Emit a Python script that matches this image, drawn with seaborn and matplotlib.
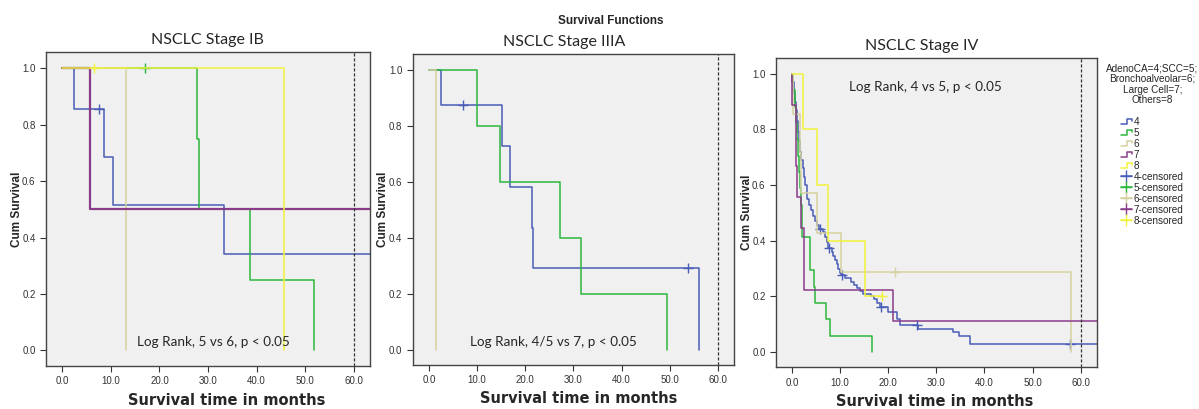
import numpy as np
import pandas as pd
import matplotlib
matplotlib.use("Agg")
import matplotlib.pyplot as plt
import seaborn as sns
from matplotlib.lines import Line2D
from matplotlib.legend_handler import HandlerLine2D

sns.set_theme(style="ticks")
plt.rcParams["font.family"] = ["Liberation Sans", "DejaVu Sans"]

# group codes: AdenoCA=4, SCC=5, Bronchoalveolar=6, Large Cell=7, Others=8
groups = [4, 5, 6, 7, 8]
group_colors = {4: "#4a5db8", 5: "#2cb63c", 6: "#d6d1a0", 7: "#8a3c8a", 8: "#f2f23a"}

# ---- Stage IB (time in months, survival after each step, censored times)
ib_t4 = [0, 2.4, 8.6, 10.5, 33.2, 66.0]
ib_s4 = [1.0, 0.857, 0.686, 0.514, 0.343, 0.343]
ib_c4 = [7.6]
ib_t5 = [0, 27.8, 28.1, 38.7, 51.9]
ib_s5 = [1.0, 0.75, 0.5, 0.25, 0.0]
ib_c5 = [17.0]
ib_t6 = [0, 13.2]
ib_s6 = [1.0, 0.0]
ib_t7 = [0, 5.7, 66.0]
ib_s7 = [1.0, 0.5, 0.5]
ib_t8 = [0, 45.6]
ib_s8 = [1.0, 0.0]
ib_c8 = [6.5]

# ---- Stage IIIA
iiia_t4 = [0, 2.56, 15.2, 16.9, 21.5, 21.7, 56.0]
iiia_s4 = [1.0, 0.875, 0.729, 0.583, 0.437, 0.292, 0.0]
iiia_c4 = [7.1, 53.7]
iiia_t5 = [0, 10.1, 14.7, 27.3, 31.6, 49.4]
iiia_s5 = [1.0, 0.8, 0.6, 0.4, 0.2, 0.0]
iiia_t6 = [0, 1.45]
iiia_s6 = [1.0, 0.0]

# ---- Stage IV
iv_t4 = [0, 0, 0.3, 0.5, 0.8, 1.0, 1.2, 1.4, 1.7, 1.9, 2.2, 2.5, 2.7, 3.0, 3.2, 3.6,
         4.0, 4.4, 4.8, 5.1, 5.5, 6.4, 6.8, 7.2, 7.5, 8.2, 8.6, 9.0, 9.3, 9.6, 10.0,
         10.2, 11.0, 12.3, 12.8, 13.4, 14.1, 14.8, 16.5, 17.0, 17.6, 18.2, 20.0, 21.9,
         22.4, 26.2, 33.5, 34.7, 37.0, 66.0]
iv_s4 = [1.0, 0.97, 0.93, 0.90, 0.87, 0.83, 0.79, 0.76, 0.72, 0.69, 0.66, 0.63, 0.60,
         0.57, 0.55, 0.53, 0.51, 0.49, 0.47, 0.455, 0.443, 0.43, 0.415, 0.395, 0.375,
         0.36, 0.345, 0.33, 0.315, 0.30, 0.285, 0.275, 0.265, 0.25, 0.24, 0.23, 0.22,
         0.207, 0.200, 0.19, 0.177, 0.163, 0.144, 0.12, 0.096, 0.084, 0.072, 0.058,
         0.03, 0.03]
iv_c4 = [5.8, 7.7, 10.3, 18.4, 25.9, 57.7]
iv_t5 = [0, 0.2, 0.6, 0.8, 1.0, 1.2, 1.4, 1.6, 1.8, 2.15, 3.75, 4.58, 4.86, 7.0, 7.8, 16.7]
iv_s5 = [1.0, 0.941, 0.882, 0.824, 0.765, 0.706, 0.647, 0.588, 0.529, 0.412, 0.294,
         0.235, 0.176, 0.118, 0.059, 0.0]
iv_t6 = [0, 0.2, 1.6, 1.95, 5.28, 10.1, 58.1]
iv_s6 = [1.0, 0.857, 0.714, 0.571, 0.429, 0.286, 0.0]
iv_c6 = [21.3]
iv_t7 = [0, 0, 0.75, 0.9, 1.0, 1.95, 2.5, 21.0, 66.0]
iv_s7 = [1.0, 0.889, 0.778, 0.667, 0.556, 0.444, 0.222, 0.111, 0.111]
iv_t8 = [0, 2.3, 5.28, 7.5, 15.1, 18.6]
iv_s8 = [1.0, 0.8, 0.6, 0.4, 0.2, 0.2]
iv_c8 = [18.6]

panels = [
    {
        "title": "NSCLC Stage IB",
        "curves": {4: (ib_t4, ib_s4, ib_c4), 5: (ib_t5, ib_s5, ib_c5), 6: (ib_t6, ib_s6, []),
                   7: (ib_t7, ib_s7, []), 8: (ib_t8, ib_s8, ib_c8)},
        "note": "Log Rank, 5 vs 6, p < 0.05",
    },
    {
        "title": "NSCLC Stage IIIA",
        "curves": {4: (iiia_t4, iiia_s4, iiia_c4), 5: (iiia_t5, iiia_s5, []),
                   6: (iiia_t6, iiia_s6, [])},
        "note": "Log Rank, 4/5 vs 7, p < 0.05",
    },
    {
        "title": "NSCLC Stage IV",
        "curves": {4: (iv_t4, iv_s4, iv_c4), 5: (iv_t5, iv_s5, []), 6: (iv_t6, iv_s6, iv_c6),
                   7: (iv_t7, iv_s7, []), 8: (iv_t8, iv_s8, iv_c8)},
        "note": "Log Rank, 4 vs 5, p < 0.05",
    },
]

# layout (figure fractions) and text placement, tuned to the reference
axes_rects = [(0.0384, 0.1051, 0.2702, 0.7677),
              (0.3442, 0.1076, 0.2680, 0.7604),
              (0.6472, 0.1020, 0.2675, 0.7570)]
title_x = [0.497, 0.47, 0.454]
xlabel_x = [0.557, 0.516, 0.495]
note_xy = [(0.28, 0.0755), (0.178, 0.073), (0.229, 0.904)]


class StepHandler(HandlerLine2D):
    """Small step-shaped legend key like the SPSS one."""

    def create_artists(self, legend, orig_handle, xdescent, ydescent,
                       width, height, fontsize, trans):
        x0, y0 = -xdescent, -ydescent
        xs = [x0, x0 + 0.55 * width, x0 + 0.55 * width, x0 + width, x0 + width]
        ys = [y0 + 0.15 * height, y0 + 0.15 * height, y0 + 0.85 * height,
              y0 + 0.85 * height, y0 + 0.5 * height]
        line = Line2D(xs, ys, color=orig_handle.get_color(), lw=orig_handle.get_linewidth())
        line.set_transform(trans)
        return [line]


def draw_curve(ax, t, s, cens, color, lw=1.1):
    df = pd.DataFrame({"t": t, "s": s})
    sns.lineplot(data=df, x="t", y="s", drawstyle="steps-post", estimator=None,
                 sort=False, color=color, lw=lw, ax=ax)
    if cens:
        idx = np.searchsorted(t, cens, side="right") - 1
        ax.plot(cens, np.asarray(s)[idx], ls="none", marker="+", ms=7, mew=1, color=color)


def style_axes(ax, i):
    ax.set_facecolor("#eff0ef")
    ax.set_xlim(-3.35, 63.35)
    ax.set_ylim(-0.055, 1.058)
    ax.set_xticks(np.arange(0, 61, 10))
    ax.set_yticks(np.arange(0, 1.01, 0.2))
    ax.xaxis.set_major_formatter("{x:.1f}")
    ax.yaxis.set_major_formatter("{x:.1f}")
    ax.tick_params(direction="out", length=4, width=0.8, labelsize=7, colors="#333333")
    for sp in ax.spines.values():
        sp.set_color("#444444")
        sp.set_linewidth(1)
    ax.axvline(60, color="#333333", ls=(0, (2.5, 1.5)), lw=0.9)
    ax.set_xlabel("Survival time in months", family="DejaVu Sans", fontweight="bold",
                  fontsize=10.5, va="top")
    ax.xaxis.set_label_coords(xlabel_x[i], -0.085)
    ax.set_ylabel("Cum Survival", fontweight="bold", fontsize=8.5, va="center")
    ax.yaxis.set_label_coords(-0.091, 0.5)


fig = plt.figure(figsize=(11.99, 4.09), dpi=100)

for i, panel in enumerate(panels):
    ax = fig.add_axes(axes_rects[i])
    for g, (t, s, cens) in panel["curves"].items():
        # the Large Cell curve looks heavier in the first panel
        lw = 1.6 if (i == 0 and g == 7) else 1.1
        draw_curve(ax, t, s, cens, group_colors[g], lw)
    style_axes(ax, i)
    ax.set_title(panel["title"], family="Lato", fontsize=11.5, x=title_x[i], pad=5.5)
    ax.text(note_xy[i][0], note_xy[i][1], panel["note"], transform=ax.transAxes,
            family="Lato", fontsize=9.7, va="center", ha="left")

fig.text(0.5094, 0.9406, "Survival Functions", ha="center", va="baseline",
         fontsize=8.5, fontweight="bold")

# legend: step keys for groups, crosses for censored cases
step_handles = [Line2D([], [], color=group_colors[g], lw=1.1) for g in groups]
cens_handles = [Line2D([], [], color=group_colors[g], lw=1.1, marker="+", ms=8, mew=1)
                for g in groups]
labels = [str(g) for g in groups] + [f"{g}-censored" for g in groups]
leg = fig.legend(step_handles + cens_handles, labels, loc="upper left",
                 bbox_to_anchor=(0.9185, 0.858), frameon=False, fontsize=7.2,
                 title="AdenoCA=4;SCC=5;\nBronchoalveolar=6;\nLarge Cell=7;\nOthers=8",
                 title_fontsize=7.2, handlelength=1.1, handletextpad=0.2,
                 labelspacing=0.1, borderpad=0, alignment="center",
                 handler_map={h: StepHandler() for h in step_handles})
leg.get_title().set_multialignment("center")
leg.get_title().set_linespacing(1.1)
leg._legend_box.sep = 8

fig.savefig("out.png", dpi=100)
